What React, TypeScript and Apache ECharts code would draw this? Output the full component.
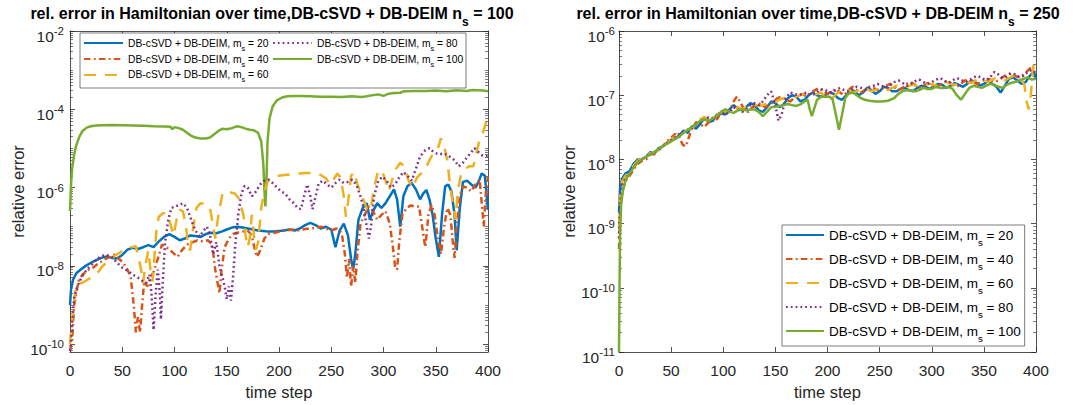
import React, { useEffect, useRef } from "react";
import * as echarts from "echarts";

const FONT = '"Liberation Sans", Arial, Helvetica, sans-serif';
const INK = "#262626";

const titleLeft = "rel. error in Hamiltonian over time,DB-cSVD + DB-DEIM n";
const titleLeftNs = "100";
const titleRightNs = "250";
const xName = "time step";
const yName = "relative error";
const legendPrefix = "DB-cSVD + DB-DEIM, m";
const msValues = [20, 40, 60, 80, 100];
const colors = ["#0072BD", "#D95319", "#EDB120", "#7E2F8E", "#77AC30"];
const dashes: (string | number[])[] = ["solid", [6.5, 3.3, 1.8, 3.3], [12, 9], [1.8, 3], "solid"];

const xTicks = [0, 50, 100, 150, 200, 250, 300, 350, 400];
const leftLabelExps = [-10, -8, -6, -4, -2];
const rightLabelExps = [-11, -10, -9, -8, -7, -6];

// ---- left panel, n_s = 100 : [time step, relative error]
const L20: [number, number][] = [[0,1.0e-9],[1,2.5e-9],[3,4.5e-9],[6,6.5e-9],[10,8e-9],[15,1.0e-8],[20,1.2e-8],[25,1.4e-8],[30,1.6e-8],[35,1.75e-8],[40,1.6e-8],[45,1.55e-8],[50,1.9e-8],[55,2.6e-8],[60,2.9e-8],[65,2.7e-8],[70,3.0e-8],[75,3.4e-8],[80,3.0e-8],[85,4.2e-8],[90,5.5e-8],[95,6.5e-8],[100,5.5e-8],[105,4.5e-8],[110,5.0e-8],[115,6.0e-8],[120,5.8e-8],[125,5.5e-8],[130,6.5e-8],[135,7.0e-8],[140,6.8e-8],[145,7.5e-8],[150,8.5e-8],[155,9.5e-8],[160,1.0e-7],[165,9.5e-8],[170,9.0e-8],[175,8.5e-8],[180,8.0e-8],[185,7.8e-8],[190,7.5e-8],[195,7.6e-8],[200,7.8e-8],[205,8.0e-8],[210,8.5e-8],[215,8.0e-8],[220,9.0e-8],[225,1.1e-7],[230,1.25e-7],[235,1.1e-7],[240,9.0e-8],[245,1.0e-7],[250,8.5e-8],[254,3.0e-8],[258,8.0e-8],[262,1.2e-7],[266,6.0e-8],[269,1.5e-8],[271,8e-9],[273,2.0e-8],[276,1.5e-7],[280,3.0e-7],[284,4.0e-7],[287,1.5e-7],[290,2.5e-7],[294,4.0e-7],[298,3.0e-7],[302,4.0e-7],[306,6.0e-7],[310,9.0e-7],[313,5.0e-7],[316,1.0e-7],[319,6.0e-7],[323,1.1e-6],[327,1.3e-6],[331,9.0e-7],[335,5.0e-7],[338,7.0e-7],[341,8.7e-7],[344,5.0e-7],[347,2.0e-7],[350,5.0e-8],[353,1.7e-8],[356,2.0e-7],[359,1.07e-6],[362,1.2e-6],[365,8.0e-7],[368,2.0e-7],[370,2.5e-8],[373,3.0e-7],[376,1.4e-6],[380,1.5e-6],[384,1.2e-6],[388,1.0e-6],[391,1.4e-6],[394,2.3e-6],[397,2.0e-6],[400,2.7e-7]];
const L40: [number, number][] = [[0,7e-11],[2,1.2e-10],[4,1.0e-9],[8,4.0e-9],[12,6e-9],[18,8e-9],[22,9e-9],[28,1.2e-8],[34,1.5e-8],[40,1.8e-8],[43,1.95e-8],[47,1.5e-8],[51,1.2e-8],[55,8e-9],[58,5.4e-9],[61,1.0e-9],[63,2.0e-10],[65,5e-10],[67,2.0e-10],[69,1.0e-9],[71,4e-9],[74,3e-9],[77,5e-9],[80,7e-9],[84,1.5e-8],[88,3.5e-8],[92,3.0e-8],[96,2.5e-8],[100,2.0e-8],[103,1.7e-8],[107,2.5e-8],[112,3.5e-8],[117,4.0e-8],[122,4.5e-8],[127,4.2e-8],[132,4.5e-8],[136,3.5e-8],[139,8e-9],[141,4e-9],[143,2.0e-9],[145,8e-9],[148,3.0e-8],[152,5.0e-8],[156,6.5e-8],[160,7.0e-8],[165,7.5e-8],[170,8.0e-8],[174,6.0e-8],[177,2.5e-8],[179,1.7e-8],[182,2.5e-8],[186,5.0e-8],[190,6.5e-8],[195,6.9e-8],[200,7.5e-8],[205,8.0e-8],[210,8.3e-8],[215,8.5e-8],[220,8.0e-8],[225,8.8e-8],[230,9.0e-8],[235,9.5e-8],[240,1.0e-7],[245,9.0e-8],[250,8.0e-8],[255,9.0e-8],[260,7.0e-8],[263,2.0e-8],[265,5e-9],[267,1.5e-8],[269,3.0e-9],[271,1.0e-8],[273,3.7e-9],[275,2.0e-8],[278,1.2e-7],[282,2.0e-7],[286,3.3e-7],[290,2.5e-7],[294,1.5e-7],[298,2.0e-7],[302,2.5e-7],[306,1.2e-7],[309,3.0e-8],[311,1.0e-8],[313,8e-9],[315,4.0e-8],[318,2.0e-7],[322,3.0e-7],[326,3.5e-7],[330,3.3e-7],[334,3.3e-7],[337,1.0e-7],[340,3.0e-8],[343,2.0e-7],[346,3.6e-7],[349,2.0e-7],[352,5.0e-8],[355,2.0e-8],[358,1.0e-7],[361,3.0e-7],[364,2.0e-7],[366,5.0e-8],[368,1.6e-8],[370,1.0e-7],[373,6.0e-7],[376,1.07e-6],[380,1.0e-6],[384,8.0e-7],[388,1.2e-6],[392,1.6e-6],[395,2.0e-7],[396,1.0e-7],[398,8.0e-7],[400,1.9e-6]];
const L60: [number, number][] = [[0,1.0e-10],[2,4e-10],[5,2.5e-9],[8,3.5e-9],[12,3.7e-9],[17,4.5e-9],[22,5.4e-9],[27,7e-9],[31,9.8e-9],[36,1.3e-8],[40,1.6e-8],[44,1.9e-8],[49,2.3e-8],[54,2.7e-8],[59,3.0e-8],[63,3.2e-8],[66,1.5e-8],[68,8e-9],[70,3.7e-9],[72,1.0e-8],[75,2.5e-8],[77,8e-9],[79,4e-9],[81,2.0e-8],[83,1.0e-7],[85,1.8e-7],[89,2.2e-7],[93,2.2e-7],[96,1.2e-7],[99,6e-8],[102,1.5e-7],[105,2.7e-7],[108,2.5e-7],[111,1.0e-7],[113,3.0e-8],[115,2.5e-8],[118,1.0e-7],[121,3.0e-7],[125,4.0e-7],[130,3.8e-7],[134,3.0e-7],[137,1.0e-7],[139,5.0e-8],[142,2.0e-7],[146,7.2e-7],[150,8.0e-7],[154,7.5e-7],[158,7.0e-7],[162,5.0e-7],[166,2.0e-7],[168,6.0e-8],[170,3.0e-8],[172,5.0e-8],[174,2.0e-7],[176,6.0e-8],[178,2.6e-8],[180,4.0e-8],[183,3.0e-7],[186,8.0e-7],[190,1.6e-6],[195,1.9e-6],[200,2.0e-6],[205,2.1e-6],[210,2.15e-6],[215,2.2e-6],[220,2.3e-6],[225,2.35e-6],[230,2.35e-6],[235,2.3e-6],[240,2.1e-6],[245,1.7e-6],[249,1.2e-6],[252,1.6e-6],[256,2.3e-6],[259,1.8e-6],[262,6.0e-7],[264,1.8e-7],[266,4.0e-7],[269,2.0e-6],[272,2.5e-6],[275,1.2e-6],[278,8.0e-7],[282,4.0e-7],[285,2.5e-7],[288,3.0e-7],[291,1.0e-6],[295,2.8e-6],[299,2.5e-6],[302,1.5e-6],[305,8.0e-7],[308,1.5e-6],[312,3.0e-6],[316,4.3e-6],[320,3.5e-6],[324,1.5e-6],[328,1.0e-6],[332,1.8e-6],[336,2.3e-6],[340,3.0e-6],[344,5.0e-6],[348,7.8e-6],[352,1.0e-5],[355,1.8e-5],[358,1.2e-5],[361,5.0e-6],[364,1.0e-6],[367,3.0e-7],[369,1.5e-7],[371,8.0e-7],[374,2.0e-6],[378,3.0e-6],[382,3.5e-6],[386,3.5e-6],[389,8.0e-6],[392,1.66e-5],[395,2.5e-5],[398,4.5e-5],[400,5.4e-5]];
const L80: [number, number][] = [[0,5e-11],[2,3e-10],[4,1.5e-9],[7,3e-9],[11,5e-9],[16,8e-9],[21,1.1e-8],[26,1.5e-8],[30,1.8e-8],[35,1.9e-8],[40,1.7e-8],[45,1.2e-8],[50,9e-9],[55,7.5e-9],[60,6e-9],[65,5e-9],[70,4e-9],[73,3.7e-9],[76,6e-9],[78,2e-9],[80,2.3e-10],[82,2e-9],[84,8e-9],[86,2e-9],[87,4.3e-10],[89,5e-9],[91,4e-8],[94,1.5e-7],[97,3.0e-7],[100,3.3e-7],[104,3.5e-7],[108,4.0e-7],[112,3.0e-7],[116,1.5e-7],[120,8.0e-8],[124,5.6e-8],[128,8.0e-8],[131,1.0e-7],[134,6.0e-8],[137,2.0e-8],[140,4.0e-8],[143,1.0e-8],[146,5e-9],[148,3e-9],[150,1.4e-9],[152,3e-9],[154,1.3e-9],[156,5e-9],[158,3.0e-8],[161,2.0e-7],[164,7.0e-7],[167,1.1e-6],[170,1.0e-6],[174,6.0e-7],[178,8.0e-7],[182,1.2e-6],[186,1.5e-6],[190,1.6e-6],[194,1.3e-6],[198,1.0e-6],[202,8.0e-7],[206,7.0e-7],[210,5.0e-7],[214,4.0e-7],[218,3.0e-7],[221,2.8e-7],[224,6.0e-7],[227,1.2e-6],[230,6.0e-7],[232,2.8e-7],[235,6.0e-7],[238,1.3e-6],[242,1.5e-6],[246,1.2e-6],[250,1.0e-6],[254,1.3e-6],[258,1.6e-6],[262,1.3e-6],[266,1.4e-6],[270,1.6e-6],[274,1.2e-6],[278,6.0e-7],[281,3.0e-7],[284,1.0e-7],[286,5.0e-8],[288,1.0e-7],[291,6.0e-7],[295,1.5e-6],[299,1.9e-6],[303,1.5e-6],[307,1.0e-6],[311,1.2e-6],[315,1.8e-6],[319,2.5e-6],[323,2.0e-6],[327,1.5e-6],[331,3.0e-6],[335,6.3e-6],[340,9.0e-6],[344,1.02e-5],[348,8.0e-6],[353,7.0e-6],[358,7.5e-6],[364,6.0e-6],[368,5.0e-6],[372,3.5e-6],[376,4.3e-6],[380,6.0e-6],[384,8.0e-6],[387,1.02e-5],[391,8.0e-6],[395,6.5e-6],[400,6.3e-6]];
const L100: [number, number][] = [[0,2.5e-7],[1,1.2e-6],[2,3.0e-6],[4,7.0e-6],[6,1.2e-5],[9,2.0e-5],[12,2.8e-5],[16,3.4e-5],[20,3.7e-5],[25,3.85e-5],[30,3.9e-5],[40,3.95e-5],[50,3.9e-5],[60,3.85e-5],[70,3.8e-5],[80,3.7e-5],[90,3.65e-5],[96,3.6e-5],[98,3.1e-5],[100,3.5e-5],[104,3.3e-5],[108,3.0e-5],[112,2.5e-5],[116,2.1e-5],[120,1.9e-5],[125,1.8e-5],[130,1.8e-5],[134,1.9e-5],[138,2.3e-5],[142,2.8e-5],[146,3.2e-5],[150,3.1e-5],[155,3.3e-5],[160,3.7e-5],[164,3.5e-5],[168,3.2e-5],[172,3.0e-5],[176,2.9e-5],[180,2.5e-5],[183,1.5e-5],[185,4.0e-6],[186,9e-7],[187,3.3e-7],[188,1.5e-6],[189,1.5e-5],[191,6.0e-5],[194,1.2e-4],[198,1.7e-4],[203,2.0e-4],[208,2.15e-4],[214,2.2e-4],[220,2.2e-4],[230,2.15e-4],[240,2.1e-4],[250,2.1e-4],[260,2.05e-4],[270,2.15e-4],[275,2.1e-4],[280,2.05e-4],[290,2.3e-4],[295,2.4e-4],[300,2.2e-4],[305,2.5e-4],[310,2.6e-4],[316,2.65e-4],[320,2.9e-4],[330,2.95e-4],[340,2.95e-4],[350,3.0e-4],[360,2.9e-4],[370,3.05e-4],[380,2.95e-4],[385,3.1e-4],[390,3.05e-4],[395,3.0e-4],[400,2.9e-4]];

// ---- right panel, n_s = 250
const R20: [number, number][] = [[0,1.5e-9],[1,3.5e-9],[3,5e-9],[6,6e-9],[10,6.5e-9],[14,8.5e-9],[18,1.0e-8],[22,1.0e-8],[26,1.1e-8],[30,1.3e-8],[34,1.25e-8],[38,1.5e-8],[42,1.6e-8],[46,1.8e-8],[50,2.0e-8],[54,2.1e-8],[58,2.4e-8],[62,2.8e-8],[66,2.6e-8],[70,3.3e-8],[74,3.0e-8],[78,3.6e-8],[82,4.5e-8],[86,3.8e-8],[90,4.0e-8],[94,5.0e-8],[98,5.2e-8],[102,5.0e-8],[106,6.0e-8],[110,7.0e-8],[114,6.2e-8],[118,5.8e-8],[122,6.5e-8],[126,7.5e-8],[130,7.0e-8],[134,5.8e-8],[138,5.5e-8],[142,6.5e-8],[146,8.0e-8],[150,7.5e-8],[154,6.5e-8],[158,7.2e-8],[162,9.0e-8],[166,1.0e-7],[170,9.5e-8],[174,8.0e-8],[178,8.5e-8],[182,1.0e-7],[186,1.1e-7],[190,1.0e-7],[194,9.5e-8],[198,1.0e-7],[202,1.1e-7],[206,1.05e-7],[210,9.0e-8],[214,8.5e-8],[218,1.0e-7],[222,1.2e-7],[226,1.15e-7],[230,1.0e-7],[234,1.1e-7],[238,1.3e-7],[242,1.2e-7],[246,1.05e-7],[250,1.15e-7],[254,1.35e-7],[258,1.3e-7],[262,1.15e-7],[266,1.15e-7],[270,1.25e-7],[274,1.3e-7],[278,1.2e-7],[282,1.15e-7],[286,1.3e-7],[290,1.4e-7],[294,1.35e-7],[298,1.25e-7],[302,1.35e-7],[306,1.5e-7],[310,1.45e-7],[314,1.3e-7],[318,1.4e-7],[322,1.55e-7],[326,1.45e-7],[330,1.35e-7],[334,1.5e-7],[338,1.7e-7],[342,1.6e-7],[346,1.4e-7],[350,1.5e-7],[354,1.65e-7],[358,1.5e-7],[362,1.35e-7],[366,1.1e-7],[370,1.4e-7],[374,1.8e-7],[378,1.9e-7],[382,1.7e-7],[386,1.5e-7],[390,1.6e-7],[394,2.0e-7],[398,2.3e-7],[400,1.8e-7]];
const R40: [number, number][] = [[0,4e-10],[1,1.5e-9],[3,3e-9],[6,4.5e-9],[10,5.5e-9],[14,7e-9],[18,8.5e-9],[22,9.5e-9],[26,1.0e-8],[30,1.2e-8],[34,1.2e-8],[38,1.45e-8],[42,1.6e-8],[46,1.9e-8],[50,2.2e-8],[54,2.5e-8],[58,2.2e-8],[61,1.7e-8],[64,1.6e-8],[67,2.2e-8],[70,3.0e-8],[74,3.8e-8],[78,3.5e-8],[82,3.2e-8],[86,3.8e-8],[90,4.5e-8],[94,4.2e-8],[98,5.5e-8],[102,6.0e-8],[106,5.5e-8],[110,8.0e-8],[113,9.5e-8],[116,8.0e-8],[120,6.0e-8],[124,5.5e-8],[128,6.5e-8],[132,7.0e-8],[136,7.5e-8],[140,6.5e-8],[144,7.0e-8],[148,8.0e-8],[152,9.0e-8],[156,9.5e-8],[160,8.5e-8],[164,8.0e-8],[168,9.0e-8],[172,1.0e-7],[176,1.05e-7],[180,9.5e-8],[184,1.1e-7],[188,1.2e-7],[192,1.3e-7],[196,1.15e-7],[200,1.05e-7],[204,1.15e-7],[208,1.25e-7],[212,1.1e-7],[216,1.0e-7],[220,1.2e-7],[224,1.35e-7],[228,1.2e-7],[232,1.1e-7],[236,1.2e-7],[240,1.35e-7],[244,1.3e-7],[248,1.2e-7],[252,1.25e-7],[256,1.4e-7],[260,1.5e-7],[264,1.35e-7],[268,1.2e-7],[272,1.3e-7],[276,1.5e-7],[280,1.6e-7],[284,1.45e-7],[288,1.3e-7],[292,1.4e-7],[296,1.55e-7],[300,1.4e-7],[304,1.3e-7],[308,1.45e-7],[312,1.6e-7],[316,1.65e-7],[320,1.45e-7],[324,1.35e-7],[328,1.5e-7],[332,1.7e-7],[336,1.75e-7],[340,1.55e-7],[344,1.5e-7],[348,1.65e-7],[352,1.8e-7],[356,1.75e-7],[360,1.6e-7],[364,1.7e-7],[368,1.9e-7],[372,2.1e-7],[376,2.2e-7],[380,2.0e-7],[384,1.9e-7],[388,2.1e-7],[392,2.4e-7],[396,2.8e-7],[398,2.5e-7],[400,2.3e-7]];
const R60: [number, number][] = [[0,9e-10],[1,2.5e-9],[3,4.5e-9],[6,5.5e-9],[10,6.5e-9],[14,8e-9],[18,9.5e-9],[22,1.05e-8],[26,1.15e-8],[30,1.25e-8],[34,1.3e-8],[38,1.4e-8],[42,1.6e-8],[46,1.8e-8],[50,2.0e-8],[54,2.3e-8],[58,2.5e-8],[62,2.6e-8],[66,2.9e-8],[70,3.0e-8],[74,3.5e-8],[78,4.2e-8],[82,4.6e-8],[86,4.0e-8],[90,4.5e-8],[94,5.0e-8],[98,5.3e-8],[102,5.5e-8],[106,6.0e-8],[110,6.0e-8],[114,6.5e-8],[118,6.0e-8],[122,6.5e-8],[126,7.0e-8],[130,7.2e-8],[134,6.8e-8],[138,7.0e-8],[142,7.5e-8],[146,7.6e-8],[150,7.8e-8],[154,8.5e-8],[158,9.0e-8],[162,8.8e-8],[166,9.0e-8],[170,9.5e-8],[174,1.0e-7],[178,1.05e-7],[182,1.0e-7],[186,1.0e-7],[190,1.05e-7],[194,1.1e-7],[198,9.0e-8],[202,8.0e-8],[206,9.5e-8],[210,1.1e-7],[214,1.2e-7],[218,1.25e-7],[222,1.15e-7],[226,1.1e-7],[230,1.2e-7],[234,1.3e-7],[238,1.25e-7],[242,1.15e-7],[246,1.2e-7],[250,1.3e-7],[254,1.25e-7],[258,1.2e-7],[262,1.3e-7],[266,1.4e-7],[270,1.35e-7],[274,1.3e-7],[278,1.4e-7],[282,1.45e-7],[286,1.4e-7],[290,1.35e-7],[294,1.45e-7],[298,1.5e-7],[302,1.45e-7],[306,1.4e-7],[310,1.5e-7],[314,1.6e-7],[318,1.5e-7],[322,1.45e-7],[326,1.55e-7],[330,1.65e-7],[334,1.6e-7],[338,1.55e-7],[342,1.7e-7],[346,1.8e-7],[350,1.7e-7],[354,1.6e-7],[358,1.75e-7],[362,1.9e-7],[366,1.8e-7],[370,1.7e-7],[374,1.85e-7],[378,2.0e-7],[382,1.95e-7],[386,1.8e-7],[389,1.4e-7],[391,8.0e-8],[393,6.0e-8],[395,1.0e-7],[397,2.5e-7],[398,3.2e-7],[400,2.8e-7]];
const R80: [number, number][] = [[0,6e-10],[1,2e-9],[3,4e-9],[6,5e-9],[10,6e-9],[14,7.5e-9],[18,9e-9],[22,1.0e-8],[26,1.1e-8],[30,1.2e-8],[34,1.3e-8],[38,1.4e-8],[42,1.6e-8],[46,1.8e-8],[50,2.0e-8],[54,2.2e-8],[58,2.5e-8],[62,2.7e-8],[66,2.9e-8],[70,3.1e-8],[74,3.4e-8],[78,3.8e-8],[82,4.2e-8],[86,4.5e-8],[90,4.2e-8],[94,4.8e-8],[98,5.5e-8],[102,5.0e-8],[106,5.5e-8],[110,6.5e-8],[114,6.0e-8],[118,5.5e-8],[122,6.0e-8],[126,7.0e-8],[130,7.5e-8],[134,7.0e-8],[138,8.0e-8],[142,1.0e-7],[146,1.15e-7],[150,7.0e-8],[153,4.0e-8],[156,5.0e-8],[160,9.0e-8],[164,1.1e-7],[168,1.05e-7],[172,1.0e-7],[176,1.05e-7],[180,1.1e-7],[184,1.0e-7],[188,1.05e-7],[192,1.2e-7],[196,1.25e-7],[200,1.15e-7],[204,1.1e-7],[208,1.2e-7],[212,1.3e-7],[216,1.2e-7],[220,1.15e-7],[224,1.25e-7],[228,1.35e-7],[232,1.3e-7],[236,1.2e-7],[240,1.3e-7],[244,1.4e-7],[248,1.5e-7],[252,1.4e-7],[256,1.3e-7],[260,1.45e-7],[264,1.6e-7],[268,1.7e-7],[272,1.55e-7],[276,1.4e-7],[280,1.5e-7],[284,1.65e-7],[288,1.75e-7],[292,1.6e-7],[296,1.5e-7],[300,1.6e-7],[304,1.75e-7],[308,1.85e-7],[312,1.7e-7],[316,1.55e-7],[320,1.7e-7],[324,1.85e-7],[328,1.75e-7],[332,1.6e-7],[336,1.7e-7],[340,1.9e-7],[344,2.0e-7],[348,1.85e-7],[352,1.7e-7],[356,1.9e-7],[360,2.3e-7],[364,2.1e-7],[368,1.85e-7],[372,1.95e-7],[376,2.2e-7],[380,2.1e-7],[384,1.9e-7],[388,2.0e-7],[392,2.3e-7],[396,2.5e-7],[400,2.2e-7]];
const R100: [number, number][] = [[0,1e-11],[0.5,1e-10],[1,6e-10],[2,2e-9],[4,3.5e-9],[7,5e-9],[10,6e-9],[14,7.5e-9],[18,9e-9],[22,1.0e-8],[26,1.1e-8],[30,1.2e-8],[34,1.3e-8],[38,1.45e-8],[42,1.6e-8],[46,1.75e-8],[50,1.9e-8],[54,2.1e-8],[58,2.3e-8],[62,2.6e-8],[66,2.9e-8],[70,3.2e-8],[74,3.5e-8],[78,4.0e-8],[82,4.2e-8],[86,4.0e-8],[90,4.3e-8],[94,4.8e-8],[98,5.5e-8],[102,6.0e-8],[106,5.5e-8],[110,5.3e-8],[114,5.8e-8],[118,6.0e-8],[122,5.8e-8],[126,6.0e-8],[130,6.0e-8],[134,5.5e-8],[138,4.7e-8],[142,5.5e-8],[146,6.5e-8],[150,6.6e-8],[154,6.8e-8],[158,7.0e-8],[162,7.3e-8],[166,7.0e-8],[170,6.8e-8],[174,7.2e-8],[178,8.0e-8],[181,8.5e-8],[183,6.0e-8],[185,4.7e-8],[187,6.0e-8],[190,8.5e-8],[194,9.5e-8],[198,9.5e-8],[202,9.5e-8],[205,8.5e-8],[208,5.0e-8],[211,2.9e-8],[214,5.0e-8],[217,9.0e-8],[220,1.05e-7],[224,1.1e-7],[228,1.0e-7],[232,9.0e-8],[236,8.5e-8],[240,8.2e-8],[246,8.0e-8],[252,8.0e-8],[258,8.2e-8],[264,9.0e-8],[268,1.05e-7],[272,1.15e-7],[276,1.2e-7],[280,1.18e-7],[284,1.15e-7],[288,1.2e-7],[292,1.3e-7],[296,1.25e-7],[300,1.25e-7],[304,1.35e-7],[308,1.3e-7],[312,1.3e-7],[316,1.35e-7],[320,1.25e-7],[324,1.0e-7],[328,8.5e-8],[332,1.05e-7],[336,1.3e-7],[340,1.4e-7],[344,1.35e-7],[348,1.3e-7],[352,1.4e-7],[356,1.5e-7],[360,1.45e-7],[364,1.35e-7],[368,1.3e-7],[372,1.45e-7],[376,1.55e-7],[380,1.6e-7],[384,1.7e-7],[388,1.8e-7],[392,1.9e-7],[396,1.75e-7],[400,1.8e-7]];

const leftSeries = [L20, L40, L60, L80, L100];
const rightSeries = [R20, R40, R60, R80, R100];

function minorTicks(lo: number, hi: number, majors: number[]) {
  const out: number[] = [];
  for (let d = Math.floor(lo) - 1; d <= Math.ceil(hi); d++) {
    for (let k = 1; k <= 9; k++) {
      const v = d + Math.log10(k);
      if (k === 1 && majors.includes(d)) continue;
      if (v >= lo && v <= hi) out.push(v);
    }
  }
  return out;
}

// tick label "10^e": exponent centred on the tick, base a little below it
const supRich = {
  b: { fontSize: 15.5, lineHeight: 13, verticalAlign: "bottom", color: INK, fontFamily: FONT },
  s: { fontSize: 11.5, lineHeight: 26, verticalAlign: "middle", color: INK, fontFamily: FONT },
};

function yAxesFor(gridIndex: number, min: number, max: number, majors: number[], margin: number) {
  const minors = minorTicks(min, max, majors);
  const base = {
    type: "value", gridIndex, min, max,
    splitLine: { show: false },
    axisLine: { show: true, onZero: false, lineStyle: { color: INK, width: 0.8 } },
  };
  return [
    {
      ...base, position: "left",
      name: yName, nameLocation: "middle", nameGap: gridIndex === 0 ? 44 : 40,
      nameTextStyle: { fontSize: 16.5, color: INK, fontFamily: FONT },
      axisTick: { show: true, inside: true, length: 5, customValues: majors, lineStyle: { color: INK, width: 0.8 } },
      axisLabel: {
        show: true, margin, customValues: majors,
        formatter: (v: number) => `{b|10}{s|${Math.round(v)}}`,
        rich: supRich,
      },
    },
    {
      ...base, position: "right",
      axisTick: { show: true, inside: true, length: 5, customValues: majors, lineStyle: { color: INK, width: 0.8 } },
      axisLabel: { show: false },
    },
    {
      ...base, position: "left", axisLine: { show: false, onZero: false },
      axisTick: { show: true, inside: true, length: 3, customValues: minors, lineStyle: { color: INK, width: 0.6 } },
      axisLabel: { show: false },
    },
    {
      ...base, position: "right", axisLine: { show: false, onZero: false },
      axisTick: { show: true, inside: true, length: 3, customValues: minors, lineStyle: { color: INK, width: 0.6 } },
      axisLabel: { show: false },
    },
  ];
}

function xAxesFor(gridIndex: number) {
  const base = {
    type: "value", gridIndex, min: 0, max: 400, interval: 50,
    splitLine: { show: false },
    axisLine: { show: true, onZero: false, lineStyle: { color: INK, width: 0.8 } },
    axisTick: { show: true, inside: true, length: 5, lineStyle: { color: INK, width: 0.8 } },
  };
  return [
    {
      ...base, position: "bottom",
      name: xName, nameLocation: "middle", nameGap: 31,
      nameTextStyle: { fontSize: 16.5, color: INK, fontFamily: FONT },
      axisLabel: { show: true, margin: 10, fontSize: 15.5, color: INK, fontFamily: FONT, customValues: xTicks },
    },
    { ...base, position: "top", axisLabel: { show: false } },
  ];
}

function legendName(side: string, i: number) {
  return `${side}${msValues[i]}`;
}

function legendFormatter(name: string) {
  const ms = name.slice(1);
  return `{a|${legendPrefix}}{s|s}{a| = ${ms}}`;
}

function legendRich(fs: number, lh: number, drop: number) {
  return {
    a: { fontSize: fs, lineHeight: lh, verticalAlign: "middle", color: "#000", fontFamily: FONT },
    s: { fontSize: fs * 0.72, lineHeight: lh - 2 * drop, verticalAlign: "bottom", color: "#000", fontFamily: FONT },
  };
}

function titleGraphic(x: number, ns: string) {
  return {
    type: "text", x, y: 13, z: 10,
    style: {
      text: `{t|${titleLeft}}{s|s}{t| = ${ns}}`,
      align: "center", verticalAlign: "middle",
      rich: {
        t: { fontSize: 16, fontWeight: "bold", lineHeight: 30, verticalAlign: "middle", fill: "#000", fontFamily: FONT },
        s: { fontSize: 12, fontWeight: "bold", lineHeight: 16, verticalAlign: "bottom", fill: "#000", fontFamily: FONT },
      },
    },
  };
}

export default function App() {
  const ref = useRef<HTMLDivElement>(null);
  useEffect(() => {
    if (!ref.current) return;
    const chart = echarts.init(ref.current, undefined, { renderer: "svg" });
    const series: any[] = [];
    leftSeries.forEach((pts, i) => {
      series.push({
        name: legendName("L", i), type: "line", xAxisIndex: 0, yAxisIndex: 0,
        data: pts.map(([t, v]) => [t, Math.log10(v)]),
        showSymbol: false, symbol: "none", clip: true, z: 2 + (i === 4 ? 0 : 1),
        lineStyle: { color: colors[i], width: 2.5, type: dashes[i] as any },
        itemStyle: { color: colors[i] },
      });
    });
    rightSeries.forEach((pts, i) => {
      series.push({
        name: legendName("R", i), type: "line", xAxisIndex: 2, yAxisIndex: 4,
        data: pts.map(([t, v]) => [t, Math.log10(v)]),
        showSymbol: false, symbol: "none", clip: true,
        lineStyle: { color: colors[i], width: 2.5, type: dashes[i] as any },
        itemStyle: { color: colors[i] },
      });
    });
    const leftLegendCommon = {
      orient: "vertical", padding: 0, itemGap: 1.8, itemWidth: 39, itemHeight: 14,
      selectedMode: false, formatter: legendFormatter,
      itemStyle: { opacity: 0, borderWidth: 0 },
      textStyle: { rich: legendRich(10.3, 17, 4) },
    };
    chart.setOption({
      animation: false,
      backgroundColor: "#fff",
      textStyle: { fontFamily: FONT },
      grid: [
        { left: 70, right: 600, top: 31, bottom: 52, containLabel: false },
        { left: 619, right: 52, top: 31, bottom: 52, containLabel: false },
      ],
      xAxis: [...xAxesFor(0), ...xAxesFor(1)],
      yAxis: [
        ...yAxesFor(0, -10.2, -2, leftLabelExps, 6),
        ...yAxesFor(1, -11, -6, rightLabelExps, 4),
      ],
      legend: [
        { ...leftLegendCommon, left: 83, top: 37.5, data: [0, 1, 2].map((i) => legendName("L", i)) },
        { ...leftLegendCommon, left: 272, top: 37.5, data: [3, 4].map((i) => legendName("L", i)) },
        {
          orient: "vertical", left: 782, top: 225, padding: [3, 4, 3, 3],
          itemGap: 5, itemWidth: 38, itemHeight: 14, selectedMode: false,
          formatter: legendFormatter,
          itemStyle: { opacity: 0, borderWidth: 0 },
          backgroundColor: "#fff", borderColor: INK, borderWidth: 0.6,
          textStyle: { rich: legendRich(13.5, 24, 5) },
          data: [0, 1, 2, 3, 4].map((i) => legendName("R", i)),
        },
      ],
      graphic: [
        titleGraphic(272, titleLeftNs),
        titleGraphic(818, titleRightNs),
        {
          type: "rect", z: 3,
          shape: { x: 80, y: 33, width: 386, height: 55 },
          style: { fill: "#fff", stroke: INK, lineWidth: 0.6 },
        },
      ],
      series,
    });
    return () => chart.dispose();
  }, []);
  return (
    <div
      ref={ref}
      style={{ position: "fixed", left: 0, top: 0, width: 1088, height: 405, background: "#fff" }}
    />
  );
}
